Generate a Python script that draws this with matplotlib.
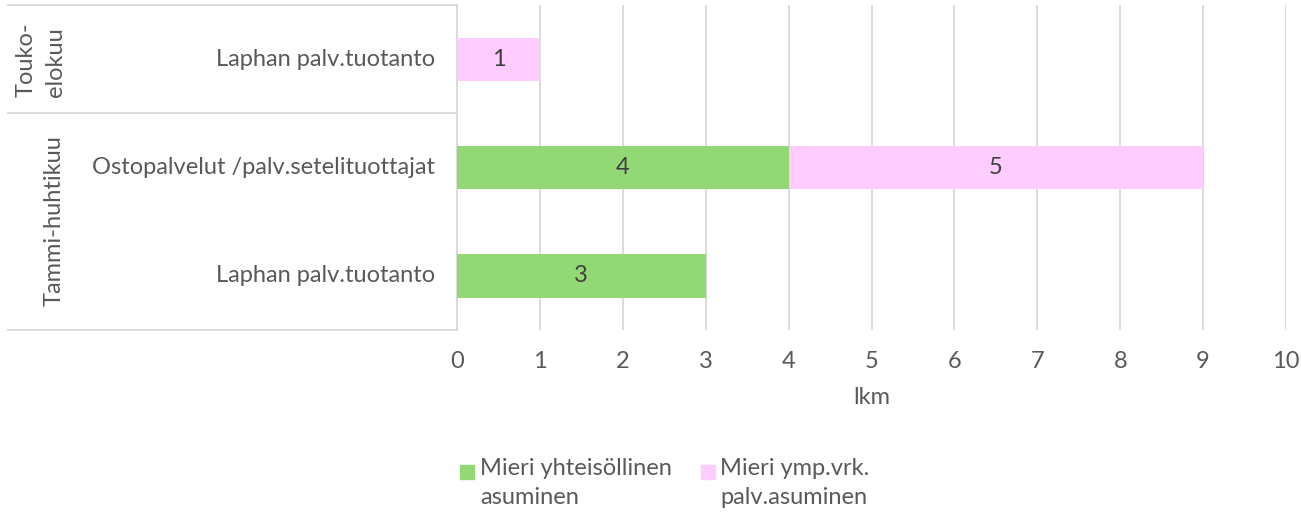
import matplotlib.pyplot as plt
from matplotlib.lines import Line2D
from matplotlib.patches import Rectangle

plt.rcParams['font.family'] = ['Lato', 'DejaVu Sans']

# rows from bottom to top
categories = ["Laphan palv.tuotanto", "Ostopalvelut /palv.setelituottajat", "Laphan palv.tuotanto"]
groups = ["Tammi-huhtikuu", "Touko-\nelokuu"]
yhteisollinen = [3, 4, 0]
ymp_vrk = [0, 5, 1]
series_names = ["Mieri yhteisöllinen\nasuminen", "Mieri ymp.vrk.\npalv.asuminen"]

green = "#92D975"
pink = "#FFCCFF"
grid = "#D9D9D9"
txt = "#595959"
fs = 17

W, H = 1301, 512
fig = plt.figure(figsize=(W / 100, H / 100), dpi=100)

x0, x1 = 457, 1286
y0, y1 = 5, 330
ax = fig.add_axes([x0 / W, 1 - y1 / H, (x1 - x0) / W, (y1 - y0) / H])

ypos = list(range(len(categories)))
ax.barh(ypos, yhteisollinen, height=0.4, color=green, zorder=3)
ax.barh(ypos, ymp_vrk, left=yhteisollinen, height=0.4, color=pink, zorder=3)

for i in ypos:
    if yhteisollinen[i]:
        ax.text(yhteisollinen[i] / 2, i, str(yhteisollinen[i]), ha='center', va='center',
                fontsize=fs, color="#404040", zorder=4)
    if ymp_vrk[i]:
        ax.text(yhteisollinen[i] + ymp_vrk[i] / 2, i, str(ymp_vrk[i]), ha='center', va='center',
                fontsize=fs, color="#404040", zorder=4)

ax.set_xlim(0, 10)
ax.set_ylim(-0.5, 2.5)
ax.set_xticks(range(0, 11))
ax.grid(axis='x', color=grid, linewidth=1.3, zorder=0)
ax.tick_params(axis='x', length=0, labelsize=fs, labelcolor=txt, pad=15)
ax.set_yticks([])
for s in ['top', 'right', 'bottom']:
    ax.spines[s].set_visible(False)
ax.spines['left'].set_color(grid)
ax.spines['left'].set_linewidth(1.3)
ax.set_xlabel("lkm", fontsize=fs, color=txt, labelpad=11)

# category labels
for i, c in enumerate(categories):
    ax.text(-22 / 83, i, c, ha='right', va='center', fontsize=fs, color=txt, clip_on=False)

# group table lines
for yy in [y0, 113, y1]:
    fig.add_artist(Line2D([8 / W, x0 / W], [1 - yy / H, 1 - yy / H], color=grid, linewidth=1.3))

fig.text(54 / W, 1 - 221 / H, groups[0], rotation=90, ha='center', va='center',
         fontsize=fs, color=txt)
fig.text(41 / W, 1 - 60 / H, groups[1], rotation=90, ha='center', va='center',
         fontsize=fs, color=txt, multialignment='left', linespacing=1.5)

# legend
for (px, tx), col, name in zip([(460, 480), (701, 720)], [green, pink], series_names):
    fig.add_artist(Rectangle((px / W, 1 - 479 / H), 14 / W, 14 / H, color=col,
                             transform=fig.transFigure))
    fig.text(tx / W, 1 - 458 / H, name, ha='left', va='top', fontsize=fs, color=txt,
             linespacing=1.5)

fig.savefig("out.png", dpi=100)
